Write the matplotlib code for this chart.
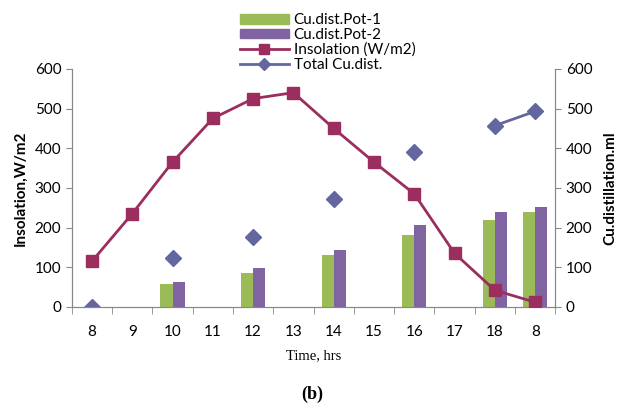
import numpy as np
import matplotlib
matplotlib.use("Agg")
import matplotlib.pyplot as plt
from matplotlib.lines import Line2D
from matplotlib.patches import Patch

hours = ["8", "9", "10", "11", "12", "13", "14", "15", "16", "17", "18", "8"]
insolation = [115, 235, 365, 475, 525, 540, 450, 365, 285, 135, 42, 12]
pot1 = [np.nan, np.nan, 58, np.nan, 85, np.nan, 130, np.nan, 182, np.nan, 220, 240]
pot2 = [np.nan, np.nan, 63, np.nan, 97, np.nan, 143, np.nan, 207, np.nan, 240, 252]
total = [0, np.nan, 123, np.nan, 177, np.nan, 273, np.nan, 390, np.nan, 457, 493]

GREEN = "#9bbb59"
PURPLE = "#8064a2"
MAROON = "#9b2d5f"
SLATE = "#6466a0"
AXIS = "#888888"

plt.rcParams["font.family"] = ["Lato", "DejaVu Sans"]

fig = plt.figure(figsize=(6.24, 4.05), dpi=100)
ax = fig.add_axes([0.115, 0.242, 0.775, 0.588])
ax2 = ax.twinx()

x = np.arange(len(hours))
w = 0.3
ax2.bar(x - w / 2, pot1, width=w, color=GREEN, zorder=1)
ax2.bar(x + w / 2, pot2, width=w, color=PURPLE, zorder=1)
ax2.plot(x, total, color=SLATE, marker="D", markersize=8, linewidth=2, zorder=3)

ax.set_zorder(ax2.get_zorder() + 1)
ax.patch.set_visible(False)
ax.plot(x, insolation, color=MAROON, marker="s", markersize=8,
        linewidth=2, zorder=4)

for a in (ax, ax2):
    a.set_ylim(0, 600)
    a.set_yticks(range(0, 601, 100))
    a.set_xlim(-0.5, len(hours) - 0.5)
    for s in a.spines.values():
        s.set_color(AXIS)
    a.spines["top"].set_visible(False)
    a.tick_params(axis="y", colors=AXIS, labelcolor="black", labelsize=11,
                  length=4)

ax.set_xticks(x)
ax.set_xticklabels(hours, fontsize=11)
ax.set_xticks(np.arange(-0.5, len(hours), 1), minor=True)
ax.tick_params(axis="x", which="major", length=0, pad=13)
ax.tick_params(axis="x", which="minor", length=5, colors=AXIS)

ax.set_ylabel("Insolation,W/m2", fontsize=11, fontweight="bold", labelpad=5)
ax2.set_ylabel("Cu.distillation.ml", fontsize=11, fontweight="bold", labelpad=8)
ax.set_xlabel("Time, hrs", fontsize=10.5, family="Liberation Serif", labelpad=7)

fig.text(0.5, 0.015, "(b)", ha="center", fontsize=13, fontweight="bold",
         family="Liberation Serif")

handles = [
    Patch(color=GREEN, label="Cu.dist.Pot-1"),
    Patch(color=PURPLE, label="Cu.dist.Pot-2"),
    Line2D([], [], color=MAROON, marker="s", markersize=7, linewidth=2,
           label="Insolation (W/m2)"),
    Line2D([], [], color=SLATE, marker="D", markersize=6, linewidth=2,
           label="Total Cu.dist."),
]
fig.legend(handles=handles, loc="upper left", bbox_to_anchor=(0.37, 0.99),
           frameon=False, fontsize=11, handlelength=3.2, handleheight=0.6,
           labelspacing=0.05, borderaxespad=0.2, handletextpad=0.3)

fig.savefig("out.png", dpi=100)
